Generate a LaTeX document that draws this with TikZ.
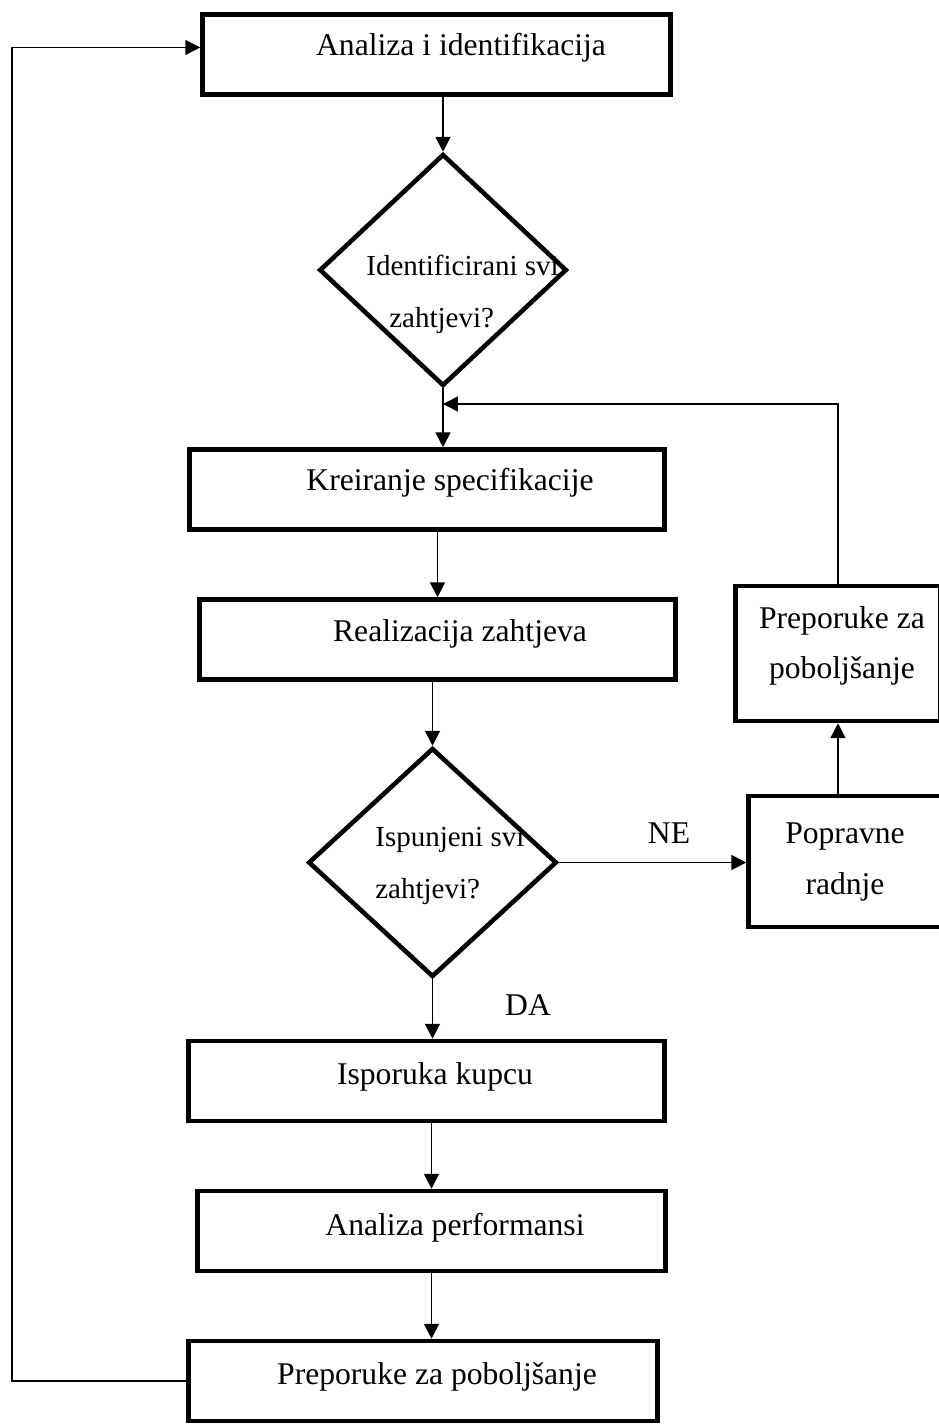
\documentclass[tikz,border=0pt]{standalone}
\usepackage{fontspec}
\setmainfont{Liberation Serif}
\usetikzlibrary{arrows.meta,shapes.geometric}

\tikzset{
    box/.style={draw, line width=2.6pt, rectangle, inner sep=0pt},
    decision/.style={draw, line width=2.6pt, diamond, inner sep=0pt},
    txt/.style={inner sep=0pt, font=\fontsize{18}{28.5}\selectfont},
    dtxt/.style={inner sep=0pt, align=left, anchor=west, font=\fontsize{16.5}{29.6}\selectfont},
    arrow/.style={-{Triangle[length=8.5pt, width=8.5pt]}, line width=1.1pt},
}

\begin{document}
\begin{tikzpicture}[x=0.02cm, y=-0.02cm]
    \useasboundingbox (0,0) rectangle (939,1426);
    \clip (0,0) rectangle (939,1426);

    % main column
    \node[box, minimum width=9.36cm, minimum height=1.6cm] (b1) at (436.5,54.5) {};
    \node[decision, minimum width=4.95cm, minimum height=4.64cm] (d1) at (443,270) {};
    \node[box, minimum width=9.5cm, minimum height=1.6cm] (b2) at (427,489.5) {};
    \node[box, minimum width=9.52cm, minimum height=1.6cm] (b3) at (437.5,639.5) {};
    \node[decision, minimum width=4.97cm, minimum height=4.58cm] (d2) at (432.5,862.5) {};
    \node[box, minimum width=9.52cm, minimum height=1.6cm] (b4) at (426.5,1081) {};
    \node[box, minimum width=9.36cm, minimum height=1.6cm] (b5) at (431.5,1231) {};
    \node[box, minimum width=9.38cm, minimum height=1.6cm] (b6) at (423,1381) {};

    % right column (cut off by the page edge)
    \node[box, minimum width=4.1cm, minimum height=2.7cm] (rp) at (838,653.5) {};
    \node[box, minimum width=3.9cm, minimum height=2.62cm] (pr) at (846,861.5) {};

    % texts
    \node[txt] (t1) at (461,48) {Analiza i identifikacija};
    \node[dtxt] (dt1) at (366,294) {Identificirani svi\\\hspace*{0.46cm}zahtjevi?};
    \node[txt] (t2) at (450,483) {Kreiranje specifikacije};
    \node[txt] (t3) at (460,634) {Realizacija zahtjeva};
    \node[dtxt] (dt2) at (375,866) {Ispunjeni svi\\zahtjevi?};
    \node[txt] (t4) at (435,1077) {Isporuka kupcu};
    \node[txt] (t5) at (455,1228) {Analiza performansi};
    \node[txt] (t6) at (437,1377) {Preporuke za poboljšanje};
    \node[txt, align=center] (trp) at (842,646) {Preporuke za\\poboljšanje};
    \node[txt, align=center] (tpr) at (845,862) {Popravne\\radnje};
    \node[txt] (ne) at (669,833) {NE};
    \node[txt] (da) at (528,1005) {DA};

    \coordinate (join) at (443,404);
    \coordinate (far) at (12,700);

    % connectors
    \draw[arrow] (b1.south -| d1.north) -- (d1.north);
    \draw[arrow] (d1.south) -- (d1.south |- b2.north);
    \draw[arrow] (b2.south -| b3.north) -- (b3.north);
    \draw[arrow] (b3.south -| d2.north) -- (d2.north);
    \draw[arrow] (d2.east) -- (d2.east -| pr.west);
    \draw[arrow] (pr.north -| rp.south) -- (rp.south);
    \draw[arrow, line width=0.9pt] (rp.north) |- (join);
    \draw[arrow] (d2.south) -- (d2.south |- b4.north);
    \draw[arrow] (b4.south -| b5.north) -- (b5.north);
    \draw[arrow] (b5.south) -- (b5.south |- b6.north);
    \draw[arrow, line width=0.9pt] (b6.west) -| (far) |- ([yshift=4pt]b1.west);
\end{tikzpicture}
\end{document}
